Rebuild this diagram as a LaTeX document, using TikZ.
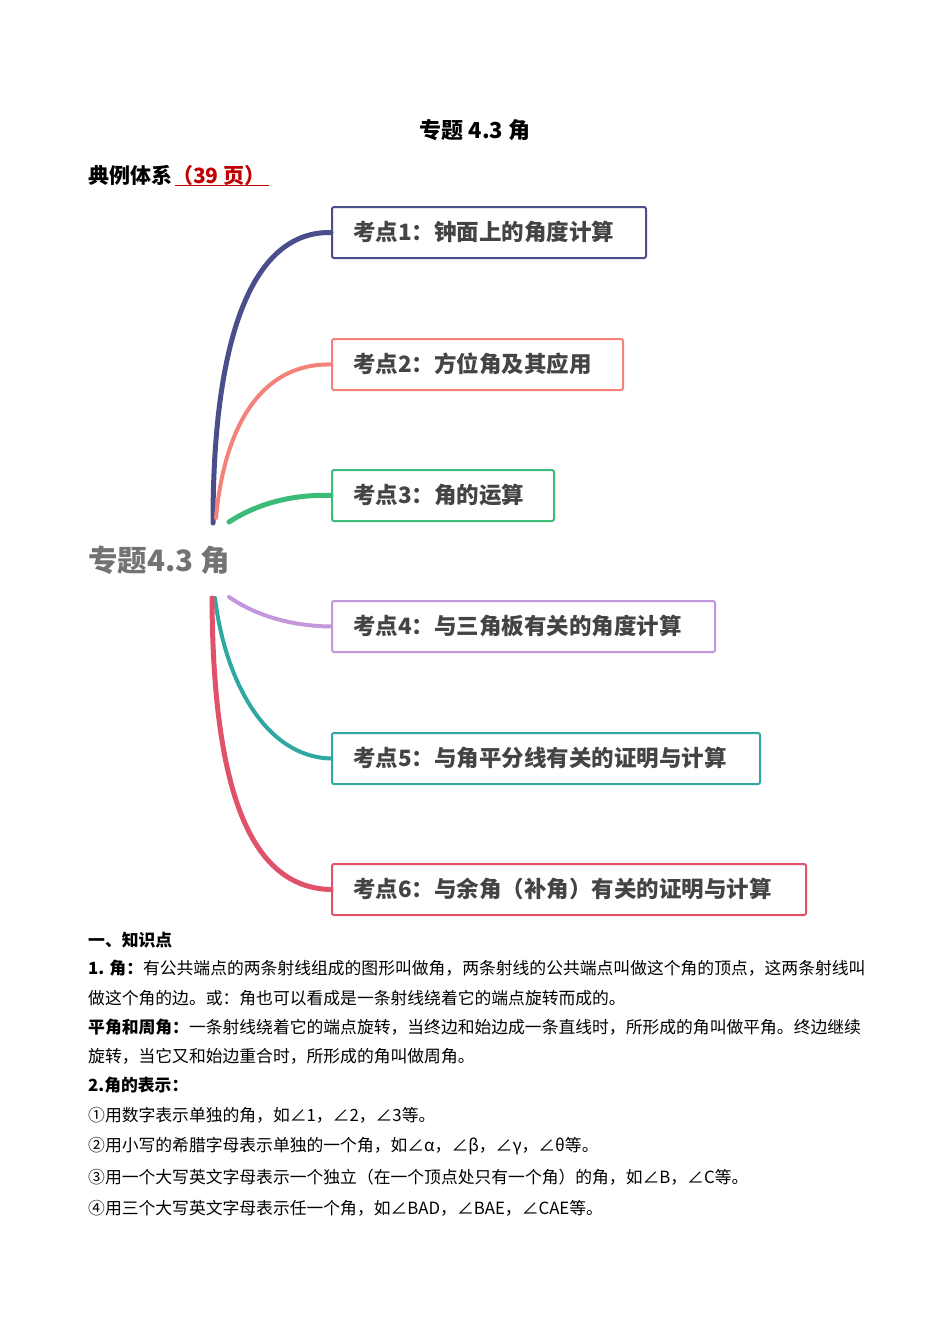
\documentclass[tikz,border=0pt]{standalone}
\usepackage{fontspec}
\setmainfont{Noto Sans CJK SC}
\definecolor{c1}{HTML}{4A4E8A}
\definecolor{c2}{HTML}{F4827A}
\definecolor{c3}{HTML}{3DBB78}
\definecolor{c4}{HTML}{C397DC}
\definecolor{c5}{HTML}{2EA8A0}
\definecolor{c6}{HTML}{E0516A}
\definecolor{tx}{HTML}{444444}
\definecolor{rd}{HTML}{C00000}
\begin{document}
\begin{tikzpicture}[x=1pt,y=-1pt,
  topic/.style={draw=#1,line width=2pt,rounded corners=2pt,anchor=north west,inner sep=0pt},
  branch/.style={draw=#1,line width=5pt,line cap=round},
  body/.style={anchor=west,inner sep=0pt,font=\fontsize{16.8}{17}\selectfont}]
\useasboundingbox (0,0) rectangle (950,1344);
\node[font=\fontsize{22}{22}\selectfont\bfseries] (title) at (475,130) {专题 4.3 角};
\node[anchor=west,inner sep=0pt,font=\fontsize{21}{21}\selectfont\bfseries] (sys) at (88,175) {典例体系\textcolor{rd}{（39 页）}};
\draw[rd,line width=1pt] (175,185) -- (269,185);
\node[anchor=west,inner sep=0pt,text=gray!90!black,font=\fontsize{29.5}{29.5}\selectfont\bfseries] (root) at (88,560) {专题4.3 角};
\foreach \i/\c/\y/\w/\t in {1/c1/206/314/{考点1：钟面上的角度计算},2/c2/338/291/{考点2：方位角及其应用},3/c3/469/222/{考点3：角的运算},4/c4/600/383/{考点4：与三角板有关的角度计算},5/c5/732/428/{考点5：与角平分线有关的证明与计算},6/c6/863/474/{考点6：与余角（补角）有关的证明与计算}}{
  \node[topic=\c,minimum width=\w pt,minimum height=51pt] (k\i) at (331,\y) {};
  \node[anchor=west,inner sep=0pt,text=tx,font=\fontsize{22.5}{22.5}\selectfont\bfseries] (t\i) at (353,\y+25.5) {\t};
}
\coordinate (s1) at (213,523);
\coordinate (s2) at (216,518);
\coordinate (s3) at (229,522);
\coordinate (s4) at (229,597);
\coordinate (s5) at (215,598);
\coordinate (s6) at (212,598);
\draw[branch=c1] (s1) .. controls (213,330) and (255,231) .. (k1.west);
\draw[branch=c2,line width=4pt] (s2) .. controls (225,420) and (265,363) .. (k2.west);
\draw[branch=c3] (s3) .. controls (255,505) and (290,494) .. (k3.west);
\draw[branch=c4,line width=4pt] (s4) .. controls (255,615) and (290,626) .. (k4.west);
\draw[branch=c5,line width=4pt] (s5) .. controls (225,680) and (265,757) .. (k5.west);
\draw[branch=c6] (s6) .. controls (213,790) and (250,888) .. (k6.west);
\node[body] (l0) at (88,940) {\bfseries 一、知识点};
\node[body] (l1) at (88,968) {\textbf{1. 角：}有公共端点的两条射线组成的图形叫做角，两条射线的公共端点叫做这个角的顶点，这两条射线叫};
\node[body] (l2) at (88,998) {做这个角的边。或：角也可以看成是一条射线绕着它的端点旋转而成的。};
\node[body] (l3) at (88,1027) {\textbf{平角和周角：}一条射线绕着它的端点旋转，当终边和始边成一条直线时，所形成的角叫做平角。终边继续};
\node[body] (l4) at (88,1056) {旋转，当它又和始边重合时，所形成的角叫做周角。};
\node[body] (l5) at (88,1085) {\bfseries 2.角的表示：};
\node[body] (l6) at (88,1115) {①用数字表示单独的角，如∠1，∠2，∠3等。};
\node[body] (l7) at (88,1146) {②用小写的希腊字母表示单独的一个角，如∠α，∠β，∠γ，∠θ等。};
\node[body] (l8) at (88,1177) {③用一个大写英文字母表示一个独立（在一个顶点处只有一个角）的角，如∠B，∠C等。};
\node[body] (l9) at (88,1208) {④用三个大写英文字母表示任一个角，如∠BAD，∠BAE，∠CAE等。};
\end{tikzpicture}
\end{document}
